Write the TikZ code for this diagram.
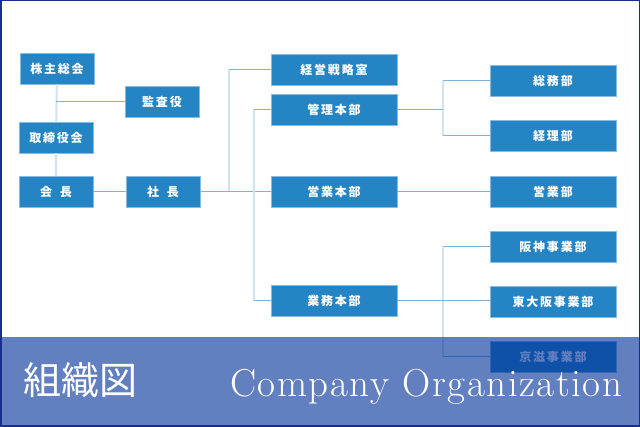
\documentclass[tikz,border=0pt]{standalone}
\usepackage{fontspec}
\usetikzlibrary{positioning}
\newfontfamily\jp[LetterSpace=15]{Noto Sans CJK JP}
\newfontfamily\jptitle{Noto Sans CJK JP}
\newfontfamily\entitle[LetterSpace=4]{Latin Modern Roman}
\definecolor{boxblue}{HTML}{2584C4}
\definecolor{boxedge}{HTML}{86BBE3}
\definecolor{hlinec}{HTML}{7FB2DA}
\definecolor{vlinec}{HTML}{CFE3F2}
\definecolor{bandc}{RGB}{2,50,153}
\definecolor{framec}{HTML}{1C2E8C}

\begin{document}
\begin{tikzpicture}[
    x=1pt, y=-1pt,
    unit/.style={rectangle, draw=boxedge, line width=0.8pt, fill=boxblue, text=white, inner sep=0pt, minimum height=31pt, font=\jp\bfseries\fontsize{12}{14}\selectfont},
    small/.style={unit, minimum width=74pt},
    wide/.style={unit, minimum width=126pt},
    hline/.style={draw=hlinec, line width=1pt},
    vline/.style={draw=vlinec, line width=2pt}
  ]
    \useasboundingbox (0,0) rectangle (640,427);
    \fill[white] (0,0) rectangle (640,427);

    % left column
    \node[small] (kabunushi)   at (57,68.5)  {株主総会};
    \node[small] (kansa)       at (162,102)  {監査役};
    \node[small] (torishimari) at (56,137.5) {取締役会};
    \node[small] (kaicho)      at (56,191.5) {会\hspace{8pt}長};
    \node[small] (shacho)      at (163,191.5) {社\hspace{8pt}長};

    % headquarters
    \node[wide] (senryaku)  at (334,70)    {経営戦略室};
    \node[wide] (kanri)     at (334,109.5) {管理本部};
    \node[wide] (eigyohon)  at (334,191.5) {営業本部};
    \node[wide] (gyomuhon)  at (334,301)   {業務本部};

    % departments
    \node[wide] (somu)     at (553,81)    {総務部};
    \node[wide] (keiri)    at (553,136)   {経理部};
    \node[wide] (eigyo)    at (553,191.5) {営業部};
    \node[wide] (hanshin)  at (553,247)   {阪神事業部};
    \node[wide] (higashi)  at (553,302)   {東大阪事業部};
    \node[wide] (keiji)    at (553,357)   {京滋事業部};

    \coordinate (trunkA) at (229,191.5);
    \coordinate (trunkB) at (254,0);
    \coordinate (trunkC) at (443,0);

    \draw[vline] (kabunushi) -- (torishimari);
    \draw[vline] (torishimari) -- (kaicho);
    \draw[hline] (kansa.west) -- (kansa.west -| kaicho);
    \draw[hline] (kaicho) -- (shacho);
    \draw[hline] (shacho) -- (eigyohon);

    \draw[vline] (senryaku.west -| trunkA) -- (trunkA);
    \draw[hline] (senryaku.west -| trunkA) -- (senryaku.west);
    \draw[vline] (kanri.west -| trunkB) -- (gyomuhon.west -| trunkB);
    \draw[hline] (kanri.west -| trunkB) -- (kanri.west);
    \draw[hline] (gyomuhon.west -| trunkB) -- (gyomuhon.west);

    \draw[vline] (somu.west -| trunkC) -- (keiri.west -| trunkC);
    \draw[hline] (kanri.east) -- (kanri.east -| trunkC);
    \draw[hline] (somu.west -| trunkC) -- (somu.west);
    \draw[hline] (keiri.west -| trunkC) -- (keiri.west);
    \draw[hline] (eigyohon) -- (eigyo);

    \draw[vline] (hanshin.west -| trunkC) -- (keiji.west -| trunkC);
    \draw[hline] (hanshin.west -| trunkC) -- (hanshin.west);
    \draw[hline] (keiji.west -| trunkC) -- (keiji.west);
    \draw[hline] (gyomuhon.east) -- (gyomuhon.east -| higashi.west);

    % title band
    \fill[bandc, opacity=0.62] (0,337) rectangle (640,427);
    \node[anchor=base west, text=white, inner sep=0pt, font=\jptitle\fontsize{38}{40}\selectfont] (titlejp) at (23,395) {組織図};
    \node[anchor=base west, text=white, inner sep=0pt, font=\entitle\fontsize{39}{40}\selectfont] (titleen) at (230,397) {Company Organization};

    \draw[framec, line width=1.5pt] (0.75,0.75) rectangle (639.25,426.25);
  \end{tikzpicture}
\end{document}
